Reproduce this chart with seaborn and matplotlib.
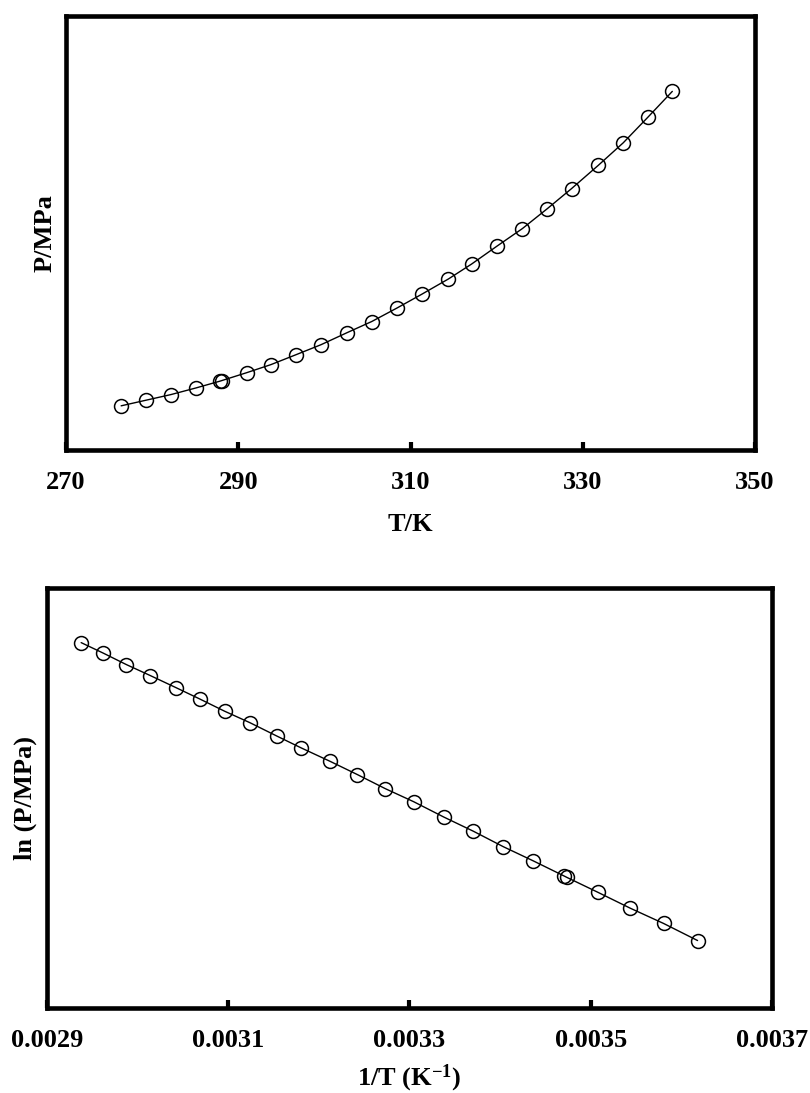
import numpy as np
import pandas as pd
import matplotlib
matplotlib.use("Agg")
import matplotlib.pyplot as plt
import seaborn as sns

# Measured equilibrium temperatures (K) and pressures (MPa)
temperature_K = [276.4, 279.3, 282.2, 285.1, 287.9, 288.1, 291.0, 293.8, 296.7,
                 299.6, 302.6, 305.5, 308.4, 311.3, 314.4, 317.1, 320.1, 323.0,
                 325.9, 328.7, 331.8, 334.7, 337.6, 340.4]
pressure_MPa = [0.407, 0.459, 0.511, 0.572, 0.635, 0.640, 0.713, 0.787, 0.878,
                0.970, 1.080, 1.184, 1.307, 1.435, 1.576, 1.714, 1.882, 2.041,
                2.225, 2.409, 2.623, 2.831, 3.070, 3.305]

top_xticks = [270, 290, 310, 330, 350]
bottom_xticks = [0.0029, 0.0031, 0.0033, 0.0035, 0.0037]
bottom_xticklabels = ["0.0029", "0.0031", "0.0033", "0.0035", "0.0037"]

df = pd.DataFrame({"T": temperature_K, "P": pressure_MPa})
df["invT"] = 1.0 / df["T"]
df["lnP"] = np.log(df["P"])

sns.set_style("white")
plt.rcParams["font.family"] = ["Liberation Serif", "DejaVu Serif"]
plt.rcParams["font.weight"] = "bold"
plt.rcParams["axes.labelweight"] = "bold"
plt.rcParams["mathtext.default"] = "regular"
plt.rcParams["axes.unicode_minus"] = False
plt.rcParams["text.color"] = "black"
plt.rcParams["axes.labelcolor"] = "black"
plt.rcParams["xtick.color"] = "black"

FS = 19
fig = plt.figure(figsize=(8.10, 10.93), dpi=100)
ax1 = fig.add_axes([0.0815, 0.5883, 0.8506, 0.3971])
ax2 = fig.add_axes([0.058, 0.0778, 0.895, 0.3843])

line_kw = dict(color="black", linewidth=1.0, marker="o", markersize=10,
               markerfacecolor="none", markeredgecolor="black",
               markeredgewidth=1.1, estimator=None, sort=False)

sns.lineplot(data=df, x="T", y="P", ax=ax1, **line_kw)
sns.lineplot(data=df, x="invT", y="lnP", ax=ax2, **line_kw)

ax1.set_xlim(270, 350)
ax1.set_ylim(0, 4.0)
ax1.set_xticks(top_xticks)
ax1.set_xticklabels([str(t) for t in top_xticks])
ax1.set_xlabel("T/K", fontsize=FS, fontweight="bold", labelpad=14)
ax1.set_ylabel("P/MPa", fontsize=FS, fontweight="bold", labelpad=7)

ax2.set_xlim(0.0029, 0.0037)
ax2.set_ylim(-1.373, 1.580)
ax2.set_xticks(bottom_xticks)
ax2.set_xticklabels(bottom_xticklabels)
ax2.set_xlabel("1/T (K$^{-1}$)", fontsize=FS, fontweight="bold", labelpad=8)
ax2.set_ylabel("ln (P/MPa)", fontsize=FS, fontweight="bold", labelpad=7)

for ax in (ax1, ax2):
    ax.set_yticks([])
    for s in ax.spines.values():
        s.set_visible(True)
        s.set_linewidth(3.3)
        s.set_color("black")
    ax.tick_params(axis="x", direction="in", length=6, width=3, pad=15,
                   labelsize=FS, colors="black", bottom=True, top=False)
    for lab in ax.get_xticklabels():
        lab.set_fontweight("bold")

fig.savefig("out.png", dpi=100, facecolor="white")
